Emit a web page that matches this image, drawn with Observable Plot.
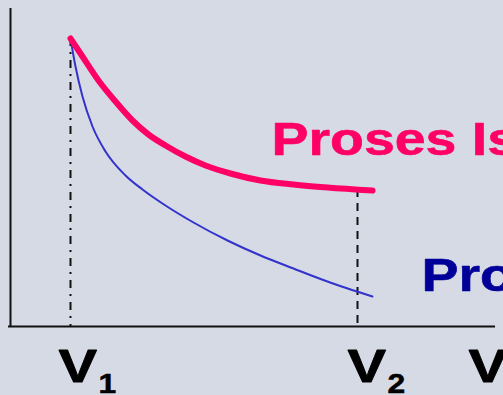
<!DOCTYPE html>
<html>
<head>
<meta charset="utf-8">
<script src="https://cdn.jsdelivr.net/npm/d3@7"></script>
<script src="https://cdn.jsdelivr.net/npm/@observablehq/plot@0.6"></script>
<style>
  html, body { margin: 0; padding: 0; background: #d5dae4; overflow: hidden; }
  #chart { width: 503px; height: 395px; }
</style>
</head>
<body>
<div id="chart"></div>
<script>
// Isothermal process (pink, thick)
const isoV = [60, 70, 88, 105, 122, 138, 155, 175, 195, 220, 250, 283, 317, 362];
const isoP = [288, 273, 246, 225, 206, 192, 181, 170, 161, 153, 146, 142, 139, 136];
// Adiabatic process (blue, thin)
const adiV = [60, 65, 72, 82, 95, 115, 132, 155, 183, 217, 250, 283, 317, 362];
const adiP = [288, 260, 230, 200, 175, 151, 137, 121, 104, 86, 71, 58, 45, 30];
// Volume marks
const V1 = 60, V2 = 347;
const axisTop = 318, axisRight = 485;
const isoLabel = "Proses Isotermal";
const adiLabel = "Proses Adiabatik";
const xLabels = [{v: 48, main: "V", sub: "1"}, {v: 337, main: "V", sub: "2"}, {v: 458, main: "V", sub: ""}];

const iso = isoV.map((v, i) => ({V: v, P: isoP[i]}));
const adi = adiV.map((v, i) => ({V: v, P: adiP[i]}));
const p2 = d3.scaleLinear().domain(isoV).range(isoP)(V2);

const font = "Liberation Sans, Arial, sans-serif";
const plot = Plot.plot({
  width: 503,
  height: 395,
  margin: 0,
  style: {background: "transparent", overflow: "hidden"},
  x: {domain: [-10, 493], axis: null},
  y: {domain: [-69, 326], axis: null},
  marks: [
    Plot.ruleX([0], {y1: -1, y2: axisTop, stroke: "#111", strokeWidth: 2}),
    Plot.ruleY([0], {x1: -2, x2: axisRight, stroke: "#111", strokeWidth: 2}),
    Plot.ruleX([V1], {y1: isoP[0], y2: 0, stroke: "#111", strokeWidth: 2, strokeDasharray: "8,6,2,6"}),
    Plot.ruleX([V2], {y1: p2, y2: 0, stroke: "#111", strokeWidth: 2, strokeDasharray: "8,6"}),
    Plot.line(adi, {x: "V", y: "P", stroke: "#3333cc", strokeWidth: 2, curve: "monotone-x"}),
    Plot.line(iso, {x: "V", y: "P", stroke: "#ff0066", strokeWidth: 6, curve: "monotone-x"}),
    Plot.text([isoLabel], {x: 261, y: 172, text: d => d, fill: "#ff0066", stroke: "#ff0066", strokeWidth: 0.6, fontSize: 47, fontWeight: "bold", fontFamily: font, textAnchor: "start", lineAnchor: "bottom"}),
    Plot.text([adiLabel], {x: 411, y: 36, text: d => d, fill: "#000099", stroke: "#000099", strokeWidth: 0.6, fontSize: 47, fontWeight: "bold", fontFamily: font, textAnchor: "start", lineAnchor: "bottom"}),
    Plot.text(xLabels, {x: "v", y: -55, text: "main", fill: "#000", stroke: "#000", strokeWidth: 0.8, fontSize: 47, fontWeight: "bold", fontFamily: font, textAnchor: "start", lineAnchor: "bottom"}),
    Plot.text(xLabels, {x: d => d.v + 40, y: -66, text: "sub", fill: "#000", stroke: "#000", strokeWidth: 0.5, fontSize: 27, fontWeight: "bold", fontFamily: font, textAnchor: "start", lineAnchor: "bottom"})
  ]
});
d3.select(plot).selectAll("text").each(function() {
  const t = this.getAttribute("transform") || "";
  const s = this.textContent === "V" ? 1.23 : 1.18;
  this.setAttribute("transform", t + ` scale(${s},1)`);
});
document.getElementById("chart").appendChild(plot);
</script>
</body>
</html>
